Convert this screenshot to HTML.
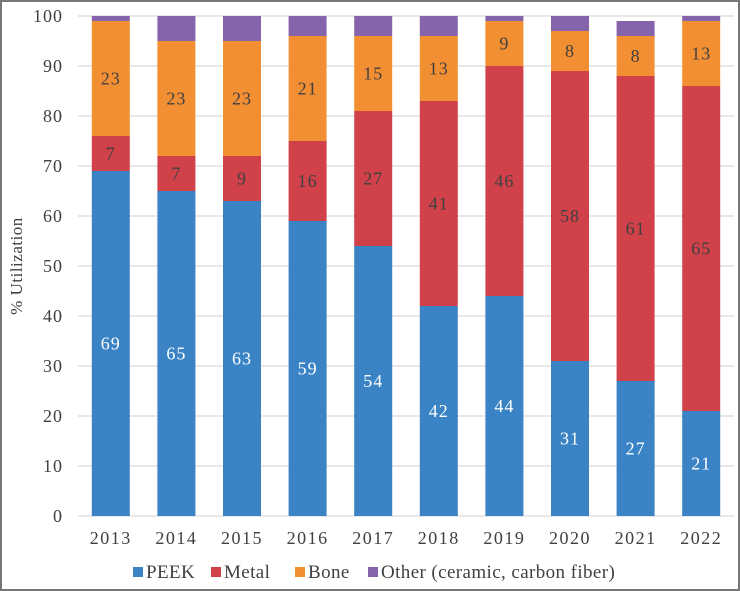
<!DOCTYPE html>
<html><head><meta charset="utf-8"><style>
body{margin:0;background:#fff}
svg{display:block;font-family:"Liberation Serif",serif}
</style></head><body>
<svg id="chart" width="740" height="591">
<rect x="1" y="1" width="738" height="589" fill="#fff" stroke="#777" stroke-width="2"/>
<g id="grid"></g><g id="bars"></g><g id="labels"></g>
<text transform="translate(22,266) rotate(-90)" text-anchor="middle" font-size="17" letter-spacing="0.5" fill="#404040">% Utilization</text>
<g id="legend"></g>
</svg>
<script>
const years=["2013","2014","2015","2016","2017","2018","2019","2020","2021","2022"];
const peek=[69,65,63,59,54,42,44,31,27,21];
const metal=[7,7,9,16,27,41,46,58,61,65];
const bone=[23,23,23,21,15,13,9,8,8,13];
const other=[1,5,5,4,4,4,1,3,3,1];
const yTicks=[0,10,20,30,40,50,60,70,80,90,100];
const seriesNames=["PEEK","Metal","Bone","Other (ceramic, carbon fiber)"];
const colors=["#3a83c4","#d1414a","#f38f33","#8664ab"];
const NS="http://www.w3.org/2000/svg";
const x0=78,x1=734,yTop=16,yBot=516;
const y=v=>yBot-(v/100)*(yBot-yTop);
const step=(x1-x0)/years.length;
const xc=i=>x0+step*(i+0.5);
const bw=38;
function mk(tag,attrs,parent){const e=document.createElementNS(NS,tag);for(const k in attrs)e.setAttribute(k,attrs[k]);parent.appendChild(e);return e;}
const grid=document.getElementById('grid'),bars=document.getElementById('bars'),labels=document.getElementById('labels'),legend=document.getElementById('legend');
yTicks.forEach(t=>{
 const l=mk('line',{x1:x0,x2:x1,y1:y(t),y2:y(t),stroke:'#d9d9d9','stroke-width':1.3},grid);
 
 
 const tx=mk('text',{x:63,y:y(t)+6,'text-anchor':'end','font-size':18,'letter-spacing':1,fill:'#404040'},grid);
 tx.textContent=t;
 
 
});
const series=[peek,metal,bone,other];
years.forEach((yr,i)=>{
 let base=0;
 series.forEach((s,k)=>{
  const v=s[i];
  const r=mk('rect',{x:xc(i)-bw/2,y:y(base+v),width:bw,height:y(base)-y(base+v),fill:colors[k]},bars);
  
  
  if(k<3){
   const t=mk('text',{x:xc(i),y:y(base+v/2)+6,'text-anchor':'middle','font-size':18,'letter-spacing':1,fill:k==0?'#fff':'#404040'},labels);
   t.textContent=v;
   
   
  }
  base+=v;
 });
 const t=mk('text',{x:xc(i),y:544,'text-anchor':'middle','font-size':18,'letter-spacing':1.5,fill:'#404040'},labels);
 t.textContent=yr;
 
 
});
const lx=[133,211,295,368];
seriesNames.forEach((n,k)=>{
 const r=mk('rect',{x:lx[k],y:567,width:10,height:10,fill:colors[k]},legend);
 
 
 const t=mk('text',{x:lx[k]+13,y:578,'font-size':19,'letter-spacing':0.4,fill:'#404040'},legend);
 t.textContent=n;
 
 
});
</script>
</body></html>
